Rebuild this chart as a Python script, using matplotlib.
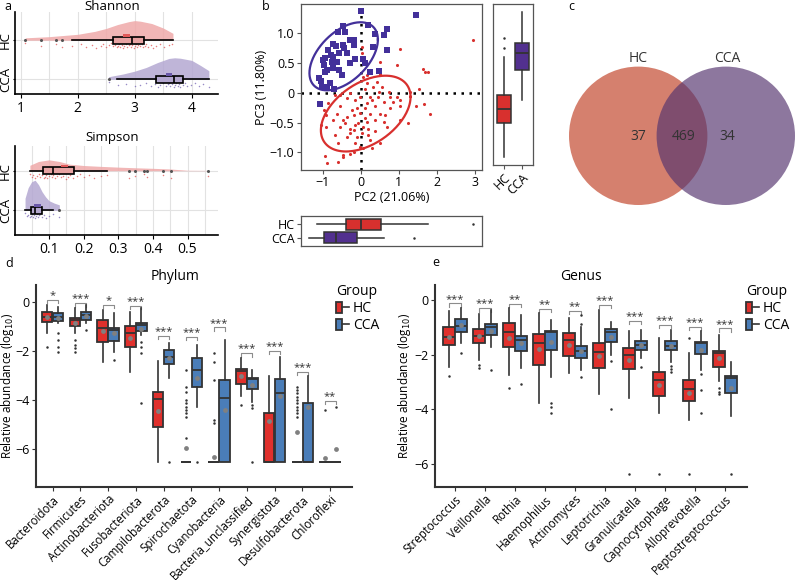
import matplotlib.pyplot as plt
import matplotlib.patches as mpatches
from matplotlib.lines import Line2D
from matplotlib.legend_handler import HandlerTuple
from matplotlib.ticker import MultipleLocator
import numpy as np

plt.rcParams['font.family'] = ['Open Sans', 'DejaVu Sans']

W, H = 796, 580

# ---------------- panel a: alpha diversity (HC, CCA) ----------------
shannon_q1 = [2.61, 3.37]
shannon_med = [2.96, 3.68]
shannon_q3 = [3.16, 3.85]
shannon_lo = [1.90, 2.68]
shannon_hi = [3.67, 4.30]
shannon_mean = [2.86, 3.60]
shannon_out = [[1.08, 1.35, 1.62, 1.72], [2.54]]
shannon_dens_x = [[1.08, 1.5, 2.0, 2.3, 2.5, 2.7, 2.9, 3.0, 3.1, 3.3, 3.5, 3.67],
                  [2.54, 2.8, 3.0, 3.2, 3.4, 3.6, 3.7, 3.8, 4.0, 4.15, 4.3]]
shannon_dens_h = [[0.12, 0.18, 0.3, 0.45, 0.6, 0.8, 0.95, 1.0, 0.97, 0.85, 0.62, 0.35],
                  [0.12, 0.25, 0.38, 0.55, 0.78, 0.97, 1.0, 0.98, 0.88, 0.65, 0.4]]
shannon_pts = [[1.08, 1.35, 1.62, 1.72, 1.9, 2.05, 2.15, 2.25, 2.32, 2.4, 2.45, 2.5, 2.55,
                2.58, 2.62, 2.65, 2.68, 2.7, 2.72, 2.75, 2.78, 2.8, 2.82, 2.85, 2.87, 2.9,
                2.92, 2.94, 2.96, 2.98, 3.0, 3.02, 3.04, 3.06, 3.08, 3.1, 3.12, 3.15, 3.18,
                3.2, 3.24, 3.28, 3.32, 3.38, 3.45, 3.52, 3.6, 3.66],
               [2.54, 2.7, 2.85, 3.0, 3.1, 3.2, 3.28, 3.35, 3.4, 3.45, 3.5, 3.55, 3.58,
                3.6, 3.62, 3.65, 3.68, 3.7, 3.72, 3.75, 3.78, 3.8, 3.84, 3.88, 3.92, 3.98,
                4.05, 4.12, 4.2, 4.3]]

simpson_q1 = [0.084, 0.047]
simpson_med = [0.111, 0.059]
simpson_q3 = [0.171, 0.079]
simpson_lo = [0.045, 0.031]
simpson_hi = [0.269, 0.112]
simpson_mean = [0.145, 0.066]
simpson_out = [[0.332, 0.347, 0.375, 0.382, 0.43, 0.453, 0.56], [0.13]]
simpson_dens_x = [[0.045, 0.07, 0.1, 0.13, 0.16, 0.2, 0.25, 0.3, 0.35, 0.4, 0.45, 0.5, 0.56],
                  [0.031, 0.04, 0.05, 0.06, 0.07, 0.08, 0.09, 0.1, 0.115, 0.13]]
simpson_dens_h = [[0.5, 0.85, 1.0, 0.85, 0.6, 0.48, 0.4, 0.33, 0.27, 0.22, 0.16, 0.04, 0.03],
                  [0.4, 0.75, 0.95, 1.0, 0.85, 0.62, 0.45, 0.32, 0.24, 0.18]]
simpson_pts = [[0.045, 0.05, 0.055, 0.06, 0.065, 0.07, 0.075, 0.08, 0.085, 0.088, 0.092,
                0.095, 0.1, 0.105, 0.11, 0.113, 0.118, 0.122, 0.128, 0.135, 0.14, 0.148,
                0.155, 0.162, 0.17, 0.18, 0.19, 0.2, 0.215, 0.23, 0.25, 0.268, 0.332,
                0.347, 0.375, 0.382, 0.43, 0.453, 0.56],
               [0.031, 0.036, 0.04, 0.044, 0.047, 0.05, 0.053, 0.056, 0.059, 0.062, 0.065,
                0.068, 0.071, 0.075, 0.079, 0.085, 0.092, 0.1, 0.112, 0.13]]

# ---------------- panel b: PCoA ----------------
pca_cca = [(0.01, 1.37), (1.46, 1.30), (0.70, 1.07), (0.62, 0.97), (-0.46, 1.11), (-0.61, 1.02),
           (-0.42, 1.01), (-0.28, 0.88), (-0.17, 0.89), (-0.72, 0.81), (-0.65, 0.79), (-0.47, 0.80),
           (-0.43, 0.75), (-0.19, 0.80), (-0.85, 0.72), (-0.79, 0.63), (-0.94, 0.58), (-1.00, 0.54),
           (-0.76, 0.52), (-0.63, 0.52), (-0.37, 0.66), (0.05, 0.56), (0.33, 0.77), (0.70, 0.72),
           (-0.15, 0.56), (-0.28, 0.49), (-0.56, 0.38), (-0.72, 0.41), (-0.89, 0.38), (-0.94, 0.35),
           (-1.05, 0.20), (-0.81, 0.17), (-1.01, 0.09), (-0.89, 0.09), (-0.50, 0.30), (0.25, 0.34),
           (0.48, 0.36), (-1.07, -0.19), (-0.70, 0.06), (0.11, 0.49), (0.20, 1.13), (0.38, 0.99),
           (-0.56, 0.66), (-0.98, 0.46), (-0.72, 0.60), (-1.11, 0.24)]
pca_hc = [(2.96, 0.89), (1.04, 0.74), (0.51, 0.52), (0.95, 0.46), (1.63, 0.39), (1.78, 0.34),
          (1.69, 0.35), (1.52, 0.06), (1.30, 0.02), (1.67, -0.19), (1.82, -0.36), (1.46, -0.23),
          (1.04, -0.22), (1.25, -0.51), (1.04, -0.45), (0.95, -0.07), (0.73, 0.02), (0.55, 0.10),
          (0.33, 0.10), (0.16, 0.16), (0.11, 0.07), (0.49, 0.02), (-0.02, -0.07), (-0.15, -0.12),
          (-0.28, -0.01), (-0.37, -0.09), (-0.54, -0.04), (-0.68, -0.04), (-0.85, -0.18), (-0.98, -0.29),
          (-0.91, -0.37), (-1.05, -0.54), (-0.91, -0.57), (-0.68, -0.71), (-0.59, -0.85), (-0.94, -1.06),
          (-0.88, -1.17), (-0.59, -1.16), (-0.47, -1.04), (-0.28, -1.02), (-0.02, -0.91), (0.29, -0.93),
          (0.51, -0.85), (0.25, -0.79), (0.20, -0.71), (-0.28, -0.68), (-0.19, -0.63), (-0.28, -0.60),
          (-0.15, -0.54), (-0.41, -0.51), (-0.46, -0.46), (-0.37, -0.40), (-0.19, -0.37), (-0.02, -0.34),
          (0.11, -0.43), (0.25, -0.35), (0.38, -0.23), (0.51, -0.35), (0.64, -0.37), (0.77, -0.26),
          (0.86, -0.15), (0.60, -0.15), (0.16, -0.18), (0.29, -0.12), (0.11, -0.26), (-0.11, -0.26),
          (-0.24, -0.29), (-0.54, -0.23), (-0.63, -0.35), (-0.72, -0.46), (-0.54, -0.57), (-0.06, -0.51),
          (0.07, -0.57), (0.20, -0.60), (0.38, -0.65), (0.68, -0.57), (0.16, -0.49), (0.03, -0.68),
          (-0.11, -0.74), (-0.37, -0.74), (-0.15, -0.85), (0.38, -0.46), (0.60, -0.49), (1.04, -0.12),
          (0.77, -0.07), (0.46, -0.07), (0.25, -0.07), (0.42, 0.18), (0.07, 0.27), (0.16, 0.30),
          (0.03, 0.66), (0.03, 0.77), (0.51, 0.32), (-0.46, -1.07), (-0.19, -0.99), (0.07, -0.93)]
ell_centers = [(0.13, -0.35), (-0.45, 0.61)]
ell_covs = [[[1.39, 0.33], [0.33, 0.403]], [[0.81, 0.252], [0.252, 0.325]]]

pc3_q1 = [-0.57, 0.35]
pc3_med = [-0.33, 0.64]
pc3_q3 = [-0.09, 0.82]
pc3_lo = [-1.16, -0.17]
pc3_hi = [0.57, 1.35]
pc3_out = [[0.73, 0.90], []]
pc2_q1 = [-0.39, -0.98]
pc2_med = [0.0, -0.65]
pc2_q3 = [0.53, -0.09]
pc2_lo = [-1.15, -1.35]
pc2_hi = [1.77, 0.61]
pc2_out = [[2.96], [1.40]]

# ---------------- panel c: venn ----------------
venn_sets = ['HC', 'CCA']
venn_counts = [37, 469, 34]

# ---------------- panel d: phylum ----------------
phyla = ['Bacteroidota', 'Firmicutes', 'Actinobacteriota', 'Fusobacteriota', 'Campilobacterota',
         'Spirochaetota', 'Cyanobacteria', 'Bacteria_unclassified', 'Synergistota',
         'Desulfobacterota', 'Chloroflexi']
phy_hc_q1 = [-0.82, -0.98, -1.63, -1.84, -5.10, -6.53, -6.53, -3.36, -6.53, -6.53, -6.53]
phy_hc_med = [-0.61, -0.75, -1.09, -1.29, -3.99, -6.53, -6.53, -2.82, -6.53, -6.53, -6.53]
phy_hc_q3 = [-0.41, -0.68, -0.75, -0.99, -3.67, -6.53, -6.53, -2.76, -4.53, -6.53, -6.53]
phy_hc_lo = [-1.29, -1.29, -2.45, -2.86, -6.53, -6.53, -6.53, -3.85, -6.53, -6.53, -6.53]
phy_hc_hi = [-0.13, -0.27, -0.34, -0.41, -2.41, -6.53, -6.53, -2.31, -3.03, -6.53, -6.53]
phy_hc_mean = [-0.61, -0.86, -1.18, -1.50, -4.45, -5.98, -6.33, -3.03, -4.86, -5.31, -6.39]
phy_hc_out = [[-1.84], [-1.56, -1.77, -1.90, -2.04], [], [], [],
              [-2.79, -3.47, -3.67, -4.01, -4.15, -4.28, -4.42, -4.56, -4.69, -5.58],
              [-2.11, -2.45, -3.20, -4.83, -4.94], [-4.22], [],
              [-3.47, -3.60, -3.74, -3.87, -4.01, -4.15, -4.28, -4.42, -4.56, -4.69], [-4.42]]
phy_cca_q1 = [-0.77, -0.75, -1.60, -1.18, -2.54, -3.47, -6.53, -3.58, -6.53, -6.53, -6.53]
phy_cca_med = [-0.61, -0.54, -1.16, -0.95, -2.24, -2.79, -3.94, -3.17, -3.71, -6.53, -6.53]
phy_cca_q3 = [-0.45, -0.41, -1.09, -0.88, -1.97, -2.31, -3.20, -3.13, -3.17, -4.12, -6.53]
phy_cca_lo = [-0.86, -0.86, -2.04, -1.36, -3.13, -4.28, -6.53, -4.08, -6.53, -6.53, -6.53]
phy_cca_hi = [-0.23, -0.13, -0.48, -0.27, -1.70, -1.77, -1.56, -2.79, -2.24, -3.03, -6.53]
phy_cca_mean = [-0.68, -0.58, -1.29, -1.13, -2.31, -3.13, -4.42, -3.40, -3.85, -4.29, -6.02]
phy_cca_out = [[-1.29, -1.56, -1.84, -2.04], [-1.16], [-2.38], [-1.63, -1.84, -2.11, -4.15],
               [-6.53], [-6.53], [], [-4.22, -4.35, -6.53], [], [], [-4.29]]
phy_sig_y = [0.07, -0.07, -0.13, -0.18, -1.40, -1.43, -1.05, -2.11, -2.0, -2.86, -4.04]
phy_sig = ['*', '***', '*', '***', '***', '***', '***', '***', '***', '***', '**']

# ---------------- panel e: genus ----------------
genera = ['Streptococcus', 'Veillonella', 'Rothia', 'Haemophilus', 'Actinomyces', 'Leptotrichia',
          'Granulicatella', 'Capnocytophage', 'Alloprevotella', 'Peptostreptococcus']
gen_hc_q1 = [-1.65, -1.56, -1.73, -2.37, -2.04, -2.50, -2.54, -3.51, -3.68, -2.46]
gen_hc_med = [-1.34, -1.32, -1.16, -1.56, -1.46, -1.89, -2.01, -2.93, -3.26, -1.95]
gen_hc_q3 = [-1.00, -1.07, -0.85, -1.24, -1.20, -1.59, -1.77, -2.62, -2.93, -1.85]
gen_hc_lo = [-2.44, -2.20, -2.74, -3.76, -2.68, -3.44, -3.60, -4.15, -4.39, -2.95]
gen_hc_hi = [-0.39, -0.51, -0.30, -0.49, -0.67, -0.37, -1.13, -1.40, -1.95, -1.28]
gen_hc_mean = [-1.34, -1.32, -1.40, -1.80, -1.65, -2.05, -2.20, -3.11, -3.41, -2.11]
gen_hc_out = [[-2.78], [-2.38, -2.48], [-3.21], [], [], [], [-6.38], [-6.38], [-1.40, -6.38],
              [-3.23, -3.35, -3.45]]
gen_cca_q1 = [-1.16, -1.28, -1.85, -1.83, -2.13, -1.52, -1.83, -1.83, -1.98, -3.41]
gen_cca_med = [-0.95, -1.00, -1.46, -1.18, -1.85, -1.16, -1.65, -1.67, -1.56, -2.87]
gen_cca_q3 = [-0.71, -0.89, -1.30, -1.12, -1.67, -1.07, -1.49, -1.49, -1.52, -2.78]
gen_cca_lo = [-1.59, -1.71, -2.50, -2.83, -2.56, -2.01, -2.13, -2.26, -2.56, -4.24]
gen_cca_hi = [-0.30, -0.37, -0.55, -0.73, -1.00, -0.79, -1.10, -1.10, -1.12, -2.26]
gen_cca_mean = [-0.91, -1.12, -1.56, -1.55, -1.85, -1.34, -1.65, -1.67, -1.83, -3.23]
gen_cca_out = [[-1.95], [-2.56], [-3.07], [-3.76, -3.90, -4.12], [-0.55, -0.89, -2.83],
               [-2.23, -4.00], [-2.44], [-2.41, -2.52, -2.62], [-2.71, -3.29, -4.15], [-6.38]]
gen_sig_y = [-0.12, -0.30, -0.15, -0.33, -0.39, -0.18, -0.76, -0.91, -0.98, -1.04]
gen_sig = ['***', '***', '**', '**', '**', '***', '***', '***', '***', '***']

RED = '#E0302C'
BLUE = '#4A7DB8'
DARK = '#333333'

fig = plt.figure(figsize=(W / 100, H / 100), dpi=100)


def px_axes(x0, y0, x1, y1):
    """axes placed by pixel box (top-left origin)"""
    return fig.add_axes([x0 / W, 1 - y1 / H, (x1 - x0) / W, (y1 - y0) / H])


def fig_text(x, y, s, **kw):
    fig.text(x / W, 1 - y / H, s, **kw)


def stats_list(q1, med, q3, lo, hi, out):
    return [dict(q1=a, med=b, q3=c, whislo=d, whishi=e, fliers=f)
            for a, b, c, d, e, f in zip(q1, med, q3, lo, hi, out)]


# ---------- panel a ----------
def raincloud(ax, q1, med, q3, lo, hi, mean, out, dens_x, dens_h, peaks, pts, band, mark_w):
    fills = ['#EFA9A9', '#B4A8D2']
    boxfills = ['#E8A2A2', '#B3A7CF']
    marks = ['#E05A5A', '#6A58A8']
    dots = ['#E04848', '#6C5BB0']
    bases = [1, 0]
    for g in range(2):
        b = bases[g]
        ax.fill_between(dens_x[g], b, b + np.array(dens_h[g]) * peaks[g],
                        color=fills[g], alpha=0.85, lw=0, zorder=2)
        n = len(pts[g])
        offs = -band[0] - band[1] * ((np.arange(n) * 0.618) % 1)
        ax.scatter(pts[g], b + offs, s=1.2, color=dots[g], alpha=0.7, lw=0, zorder=3)
        st = stats_list([q1[g]], [med[g]], [q3[g]], [lo[g]], [hi[g]], [out[g]])
        ax.bxp(st, positions=[b], widths=0.17, orientation='horizontal', patch_artist=True,
               showcaps=False, manage_ticks=False,
               boxprops=dict(facecolor=boxfills[g], edgecolor='black', linewidth=1.2),
               medianprops=dict(color='black', linewidth=1.2),
               whiskerprops=dict(color='black', linewidth=1.2),
               flierprops=dict(marker='o', markersize=2.2, markerfacecolor='#555555',
                               markeredgecolor='none'), zorder=4)
        ax.add_patch(mpatches.Rectangle((mean[g] - mark_w / 2, b + 0.085), mark_w, 0.07,
                                        facecolor=marks[g], edgecolor='none', zorder=5))
    ax.set_yticks([1, 0])
    ax.set_yticklabels(['HC', 'CCA'], rotation=90, va='center', fontsize=9.5)
    ax.grid(True, which='both', axis='x', color='#E2E2E2', lw=0.8, zorder=0)
    ax.grid(True, axis='y', color='#E2E2E2', lw=0.8, zorder=0)
    ax.set_axisbelow(True)
    for s in ['top', 'right']:
        ax.spines[s].set_visible(False)
    for s in ['left', 'bottom']:
        ax.spines[s].set_linewidth(1.2)
    ax.tick_params(axis='x', labelsize=10, length=3, pad=2)
    ax.tick_params(axis='y', length=1.5, pad=0.5)
    ax.tick_params(axis='x', which='minor', length=0)


ax = px_axes(15, 12, 218, 94)
raincloud(ax, shannon_q1, shannon_med, shannon_q3, shannon_lo, shannon_hi, shannon_mean,
          shannon_out, shannon_dens_x, shannon_dens_h, [0.5, 0.55], shannon_pts, (0.08, 0.12), 0.12)
ax.set_xlim(0.9, 4.46)
ax.set_ylim(-0.375, 1.72)
ax.set_xticks([1, 2, 3, 4])
ax.xaxis.set_minor_locator(MultipleLocator(0.5))
fig_text(112, 7, 'Shannon', ha='center', va='center', fontsize=9.5)

ax = px_axes(15, 146, 218, 235)
raincloud(ax, simpson_q1, simpson_med, simpson_q3, simpson_lo, simpson_hi, simpson_mean,
          simpson_out, simpson_dens_x, simpson_dens_h, [0.275, 0.76], simpson_pts, (0.08, 0.12), 0.02)
ax.set_xlim(0.002, 0.588)
ax.set_ylim(-0.625, 1.625)
ax.set_xticks([0.1, 0.2, 0.3, 0.4, 0.5])
ax.xaxis.set_minor_locator(MultipleLocator(0.05))
fig_text(112, 137, 'Simpson', ha='center', va='center', fontsize=9.5)

# ---------- panel b ----------
PC_RED = '#D8302E'
PC_BLUE = '#43309A'
FRAME = '#555555'


def frame(ax):
    for s in ax.spines.values():
        s.set_color(FRAME)
        s.set_linewidth(0.9)
    ax.tick_params(color=FRAME, length=3, labelsize=9, pad=1.5)


ax = px_axes(300.7, 4, 481.7, 170)
cca = np.array(pca_cca)
hc = np.array(pca_hc)
ax.axvline(0, color='black', ls=(0, (1, 2.2)), lw=1.8, zorder=1)
ax.axhline(0, color='black', ls=(0, (1, 2.2)), lw=1.8, zorder=1)
ax.scatter(hc[:, 0], hc[:, 1], s=5, color=PC_RED, lw=0, zorder=3)
ax.scatter(cca[:, 0], cca[:, 1], s=13, marker='s', color=PC_BLUE, lw=0, zorder=3)
t = np.linspace(0, 2 * np.pi, 200)
for c, cov, col in zip(ell_centers, ell_covs, [PC_RED, PC_BLUE]):
    L = np.linalg.cholesky(np.array(cov))
    e = L @ np.vstack([np.cos(t), np.sin(t)])
    ax.plot(c[0] + e[0], c[1] + e[1], color=col, lw=1.6, zorder=4)
ax.set_xlim(-1.58, 3.18)
ax.set_ylim(-1.295, 1.486)
ax.set_xticks([-1, 0, 1, 2, 3])
ax.set_yticks([-1.0, -0.5, 0, 0.5, 1.0])
ax.set_yticklabels(['\u22121.0', '\u22120.5', '0', '0.5', '1.0'])
ax.set_xticklabels(['\u22121', '0', '1', '2', '3'])
frame(ax)
ax.set_xlabel('PC2 (21.06%)', fontsize=9, labelpad=1)
ax.set_ylabel('PC3 (11.80%)', fontsize=9, labelpad=1)

box_cols = [PC_RED, '#52308F']
ax = px_axes(493, 4, 532.7, 165)
ax.bxp(stats_list(pc3_q1, pc3_med, pc3_q3, pc3_lo, pc3_hi, pc3_out), positions=[1, 2],
       widths=0.78, patch_artist=True, showcaps=False,
       boxprops=dict(edgecolor=DARK, linewidth=1.1),
       medianprops=dict(color=DARK, linewidth=1.3), whiskerprops=dict(color=DARK, linewidth=1.1),
       flierprops=dict(marker='o', markersize=1.8, markerfacecolor=DARK, markeredgecolor='none'))
for p, col in zip(ax.patches, box_cols):
    p.set_facecolor(col)
ax.set_ylim(-1.295, 1.486)
ax.set_xlim(0.4, 2.6)
ax.set_yticks([])
ax.set_xticks([1, 2])
ax.set_xticklabels(['HC', 'CCA'], rotation=45, ha='right', rotation_mode='anchor')
frame(ax)

ax = px_axes(300.7, 216, 481.7, 246)
ax.bxp(stats_list(pc2_q1, pc2_med, pc2_q3, pc2_lo, pc2_hi, pc2_out), positions=[2, 1],
       widths=0.8, orientation='horizontal', patch_artist=True, showcaps=False,
       boxprops=dict(edgecolor=DARK, linewidth=1.1),
       medianprops=dict(color=DARK, linewidth=1.3), whiskerprops=dict(color=DARK, linewidth=1.1),
       flierprops=dict(marker='o', markersize=1.8, markerfacecolor=DARK, markeredgecolor='none'))
for p, col in zip(ax.patches, box_cols):
    p.set_facecolor(col)
ax.set_xlim(-1.58, 3.18)
ax.set_ylim(0.4, 2.6)
ax.set_xticks([])
ax.set_yticks([2, 1])
ax.set_yticklabels(['HC', 'CCA'])
frame(ax)

# ---------- panel c ----------
ax = px_axes(560, 40, 796, 220)
ax.set_xlim(560, 796)
ax.set_ylim(220, 40)
ax.axis('off')
ax.add_patch(mpatches.Circle((638.2, 135.8), 69.2, facecolor='#D5806E', edgecolor='none'))
ax.add_patch(mpatches.Circle((725.8, 135.8), 69.2, facecolor='#55356F', alpha=0.67,
                             edgecolor='none'))
ax.text(638.2, 59, venn_sets[0], ha='center', va='center', fontsize=10, color=DARK)
ax.text(727, 59, venn_sets[1], ha='center', va='center', fontsize=10, color=DARK)
for xx, n in zip([638.2, 684, 727], venn_counts):
    ax.text(xx, 137, str(n), ha='center', va='center', fontsize=10, color=DARK)


# ---------- panels d, e ----------
def abundance(ax, names, hc, cca, sig_y, sig, leg, label_x):
    n = len(names)
    pos = np.arange(n)
    for g, (st, col, sh) in enumerate([(hc, RED, -0.2), (cca, BLUE, 0.2)]):
        ax.bxp(stats_list(*st[:5], st[6]), positions=pos + sh, widths=0.38,
               patch_artist=True, showcaps=False, manage_ticks=False,
               boxprops=dict(facecolor=col, edgecolor=DARK, linewidth=1.3),
               medianprops=dict(color=DARK, linewidth=1.3),
               whiskerprops=dict(color=DARK, linewidth=1.2),
               flierprops=dict(marker='o', markersize=1.8, markerfacecolor=DARK,
                               markeredgecolor='none'), zorder=3)
        ax.scatter(pos + sh, st[5], s=12, color='#808080', lw=0, zorder=5)
    for i in range(n):
        y = sig_y[i]
        ax.plot([i - 0.2, i - 0.2, i + 0.2, i + 0.2], [y - leg, y, y, y - leg],
                color='#8C8C8C', lw=0.8, zorder=2)
        ax.text(i, y - 0.05, sig[i], ha='center', va='bottom', fontsize=8, color=DARK)
    ax.set_xticks(pos)
    ax.set_xticklabels(names, rotation=45, ha='right', rotation_mode='anchor', fontsize=8.3)
    for s in ['top', 'right']:
        ax.spines[s].set_visible(False)
    for s in ['left', 'bottom']:
        ax.spines[s].set_linewidth(1.5)
        ax.spines[s].set_color(DARK)
    ax.tick_params(color=DARK, length=3, labelsize=9, pad=1.5)
    ax.tick_params(axis='x', labelsize=8.3)
    ax.set_yticks([0, -2, -4, -6])
    ax.set_yticklabels(['0', '\u22122', '\u22124', '\u22126'])
    ax.set_ylabel('Relative abundance (log$_{10}$)', fontsize=8.5)
    ax.yaxis.set_label_coords(label_x, 0.5)
    handles = [(mpatches.Patch(facecolor=RED, edgecolor=DARK, lw=1.3),
                Line2D([], [], color=DARK, lw=1.2)),
               (mpatches.Patch(facecolor=BLUE, edgecolor=DARK, lw=1.3),
                Line2D([], [], color=DARK, lw=1.2))]
    return handles


def add_legend(ax, handles, x, y):
    ax.legend(handles, ['HC', 'CCA'], handler_map={tuple: HandlerTuple(ndivide=None)},
              title='Group', loc='upper left', bbox_to_anchor=(x / W, 1 - y / H),
              bbox_transform=fig.transFigure, frameon=False, fontsize=10,
              title_fontsize=10, handlelength=0.9, handleheight=0.9, handletextpad=0.3,
              borderaxespad=0, borderpad=0, labelspacing=0.15, alignment='left')


ax = px_axes(36, 285, 351.7, 486.7)
hd = abundance(ax, phyla,
               [phy_hc_q1, phy_hc_med, phy_hc_q3, phy_hc_lo, phy_hc_hi, phy_hc_mean, phy_hc_out],
               [phy_cca_q1, phy_cca_med, phy_cca_q3, phy_cca_lo, phy_cca_hi, phy_cca_mean, phy_cca_out],
               phy_sig_y, phy_sig, 0.13, (16 - 36) / 315.7)
ax.set_xlim(-0.6, 10.78)
ax.set_ylim(-7.55, 0.68)
add_legend(ax, hd, 336, 284)

ax = px_axes(435, 285, 746.7, 486.7)
hd = abundance(ax, genera,
               [gen_hc_q1, gen_hc_med, gen_hc_q3, gen_hc_lo, gen_hc_hi, gen_hc_mean, gen_hc_out],
               [gen_cca_q1, gen_cca_med, gen_cca_q3, gen_cca_lo, gen_cca_hi, gen_cca_mean, gen_cca_out],
               gen_sig_y, gen_sig, 0.12, (413 - 435) / 311.7)
ax.set_xlim(-0.67, 9.72)
ax.set_ylim(-6.83, 0.55)
add_legend(ax, hd, 746, 284)

# titles and panel letters
fig_text(175, 276, 'Phylum', ha='center', va='center', fontsize=10)
fig_text(581, 277, 'Genus', ha='center', va='center', fontsize=10)
for x, y, s in [(4, 7, 'a'), (262, 6, 'b'), (568, 7, 'c'), (5, 263, 'd'), (432, 262, 'e')]:
    fig_text(x, y, s, ha='left', va='center', fontsize=9)

fig.savefig('out.png', dpi=100)
